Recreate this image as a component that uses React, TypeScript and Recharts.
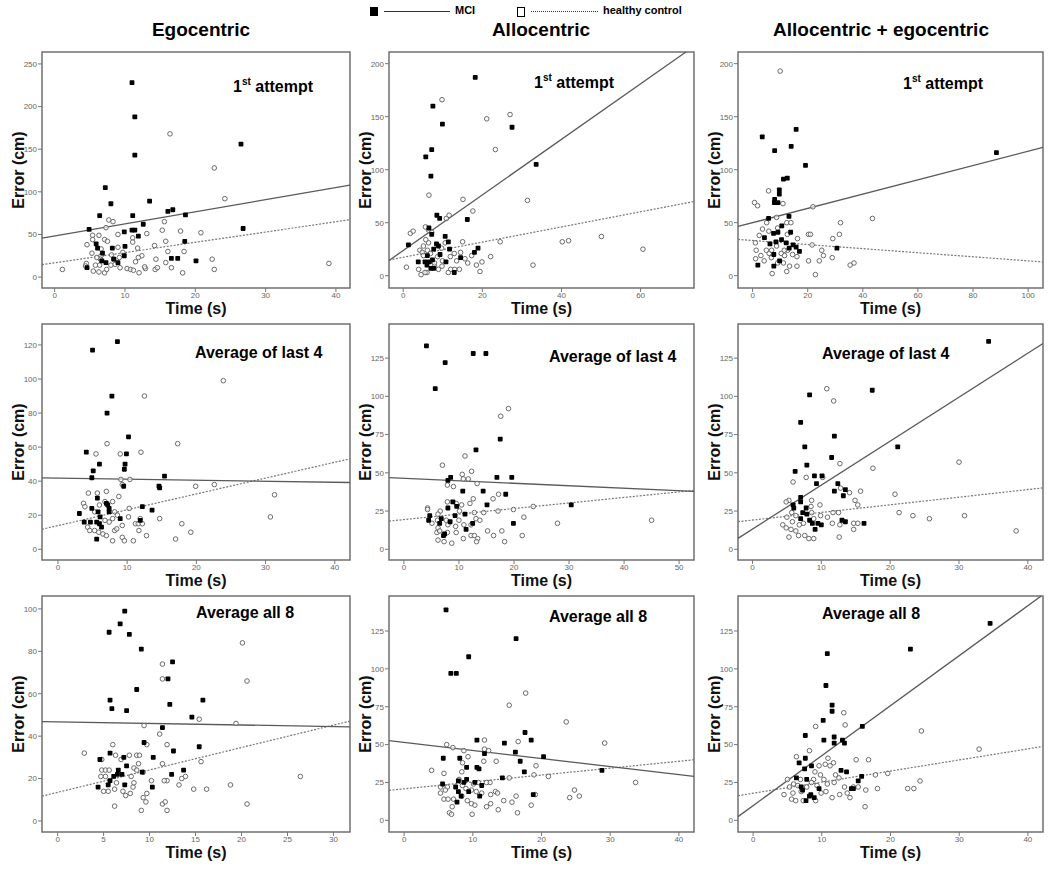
import { ScatterChart, Scatter, XAxis, YAxis, ReferenceLine, ReferenceArea } from 'recharts'

type Pt = [number, number]

// ── headings ────────────────────────────────────────────────────────────────
const columnTitles = ['Egocentric', 'Allocentric', 'Allocentric + egocentric']
const rowTitles = ['1st attempt', 'Average of last 4', 'Average all 8']

// ── axes, row-major (ego / allo / both) × (1st / last 4 / all 8) ────────────
const xDomains: Pt[] = [[-1.8, 42], [-3.6, 73.5], [-5.3, 105.4], [-2.3, 42.2], [-2.7, 52.7], [-2.1, 42.2], [-1.7, 31.8], [-2.2, 42.2], [-2.2, 42.2]]
const yDomains: Pt[] = [[-12.8, 264], [-11.6, 211], [-11.6, 211], [-6.3, 132.3], [-7, 147.3], [-7, 147.3], [-5.2, 106.1], [-7.7, 148.1], [-7.7, 148.1]]
const xTicks = [
  [0, 10, 20, 30, 40], [0, 20, 40, 60], [0, 20, 40, 60, 80, 100],
  [0, 10, 20, 30, 40], [0, 10, 20, 30, 40, 50], [0, 10, 20, 30, 40],
  [0, 5, 10, 15, 20, 25, 30], [0, 10, 20, 30, 40], [0, 10, 20, 30, 40],
]
const yTicks = [
  [0, 50, 100, 150, 200, 250], [0, 50, 100, 150, 200], [0, 50, 100, 150, 200],
  [0, 20, 40, 60, 80, 100, 120], [0, 25, 50, 75, 100, 125], [0, 25, 50, 75, 100, 125],
  [0, 20, 40, 60, 80, 100], [0, 25, 50, 75, 100, 125], [0, 25, 50, 75, 100, 125],
]

// regression fits: [intercept, slope]
const mciFits: Pt[] = [[48.2, 1.42], [23.8, 2.62], [50.0, 0.674], [41.8, -0.061], [46.4, -0.162], [13.2, 2.876], [46.7, -0.072], [51.5, -0.534], [9.7, 3.3]]
const hcFits: Pt[] = [[16.7, 1.205], [17.4, 0.715], [33.2, -0.192], [13.9, 0.93], [19.4, 0.363], [19.1, 0.499], [13.5, 1.057], [20.8, 0.455], [17.9, 0.732]]

// ── points: [time s, error cm] ──────────────────────────────────────────────
const egoFirstMci: Pt[] = [[11.0, 228], [11.4, 188], [11.4, 143], [7.2, 105], [8.0, 86], [13.5, 89], [6.4, 72], [11.1, 72], [26.5, 156], [4.9, 56], [12.6, 62], [16.1, 77], [16.8, 79], [18.6, 73], [11.0, 55], [11.4, 55], [9.9, 53], [11.9, 48], [26.8, 57], [5.9, 39], [6.1, 34], [8.2, 34], [18.5, 42], [10.0, 36], [6.8, 28], [16.6, 22], [17.5, 22], [20.1, 19], [8.4, 21], [9.0, 17], [7.3, 17], [9.9, 25], [4.6, 11], [6.7, 19]]
const egoFirstHc: Pt[] = [[16.4, 168], [22.7, 128], [24.2, 92], [7.7, 67], [8.3, 65], [7.3, 58], [15.6, 65], [15.3, 55], [17.9, 54], [20.8, 52], [13.1, 51], [9.0, 50], [5.4, 49], [6.3, 49], [4.6, 38], [5.4, 44], [7.1, 44], [7.5, 42], [11.1, 46], [11.1, 41], [14.2, 37], [15.8, 42], [11.8, 34], [9.0, 35], [6.6, 33], [5.3, 28], [6.6, 25], [8.1, 26], [9.7, 29], [12.4, 25], [14.4, 21], [16.1, 30], [18.4, 30], [22.4, 21], [6.5, 21], [4.5, 16], [4.4, 13], [5.8, 14], [6.4, 14], [8.0, 14], [9.3, 11], [10.3, 10], [10.8, 9], [11.5, 18], [11.2, 8], [12.0, 5], [12.9, 10], [14.3, 9], [14.6, 11], [16.6, 11], [18.2, 5], [22.7, 9], [5.5, 7], [6.3, 6], [7.1, 5], [7.4, 9], [8.6, 15], [1.1, 9], [39.0, 16], [15.8, 17], [12.8, 12], [9.2, 23], [11.9, 23], [8.4, 21], [6.0, 23]]

const alloFirstMci: Pt[] = [[18.2, 187], [7.5, 160], [5.7, 112], [7.2, 119], [9.9, 143], [7.0, 94], [27.5, 140], [33.6, 105], [8.5, 57], [9.2, 54], [16.2, 53], [1.3, 29], [6.5, 45], [7.2, 39], [10.6, 37], [11.4, 32], [8.4, 30], [8.9, 28], [7.7, 25], [11.7, 25], [18.9, 26], [18.0, 22], [14.5, 17], [3.8, 13], [5.5, 13], [6.0, 10], [6.6, 13], [7.4, 15], [9.3, 20], [10.8, 13], [7.0, 7], [7.7, 7], [12.9, 3], [6.1, 19]]
const alloFirstHc: Pt[] = [[9.8, 166], [21.1, 148], [27.0, 152], [23.3, 119], [6.5, 76], [15.1, 72], [31.4, 71], [17.6, 61], [10.9, 54], [11.6, 57], [1.8, 40], [2.5, 42], [5.6, 46], [6.4, 43], [7.2, 41], [15.0, 32], [24.5, 32], [40.2, 32], [41.8, 33], [50.1, 37], [60.6, 25], [32.8, 10], [22.1, 18], [19.9, 13], [19.4, 4], [18.5, 10], [16.3, 12], [15.6, 16], [14.5, 22], [12.9, 21], [11.9, 18], [13.5, 14], [12.0, 6], [11.4, 3], [13.0, 6], [14.2, 6], [9.8, 9], [8.9, 6], [7.9, 9], [6.0, 3], [5.5, 3], [4.5, 1], [3.9, 6], [0.8, 8], [4.2, 24], [4.8, 22], [5.1, 19], [6.1, 24], [6.9, 21], [8.7, 18], [9.9, 14], [9.7, 26], [10.6, 31], [6.4, 31], [5.7, 34], [7.9, 12], [17.3, 19], [5.1, 28]]

const bothFirstMci: Pt[] = [[3.5, 131], [8.0, 118], [15.8, 138], [14.0, 122], [19.2, 104], [88.5, 116], [11.2, 91], [12.6, 92], [9.7, 81], [9.7, 77], [8.0, 72], [7.9, 69], [9.2, 69], [5.8, 54], [13.2, 56], [10.6, 47], [7.6, 40], [4.3, 36], [9.2, 41], [10.5, 34], [13.8, 41], [12.2, 31], [6.3, 30], [14.7, 29], [15.8, 27], [13.3, 26], [17.0, 23], [30.6, 26], [7.7, 20], [1.9, 10], [7.7, 9], [9.8, 14], [8.5, 32]]
const bothFirstHc: Pt[] = [[10.0, 193], [5.8, 80], [0.7, 69], [1.8, 66], [11.0, 68], [21.9, 65], [43.5, 54], [31.9, 50], [5.1, 50], [8.7, 55], [12.4, 50], [13.9, 50], [3.6, 44], [5.9, 42], [9.1, 45], [20.3, 39], [21.0, 39], [31.5, 39], [29.1, 35], [2.4, 38], [16.3, 35], [12.6, 39], [1.0, 31], [1.3, 24], [3.0, 19], [1.1, 16], [4.2, 14], [6.0, 21], [6.9, 24], [10.4, 21], [11.6, 19], [12.7, 24], [14.5, 20], [16.1, 18], [21.6, 29], [25.1, 24], [25.7, 19], [24.2, 14], [20.3, 14], [28.9, 17], [35.4, 10], [36.8, 12], [22.8, 1], [7.1, 2], [12.4, 4], [11.2, 12], [13.4, 9], [16.1, 9], [9.1, 12], [6.8, 17], [8.7, 28], [5.0, 24], [11.5, 24]]

const egoLast4Mci: Pt[] = [[5.0, 117], [8.6, 122], [7.8, 90], [7.1, 80], [10.2, 66], [4.1, 57], [9.9, 56], [9.7, 50], [6.0, 50], [5.1, 46], [9.6, 47], [4.9, 42], [15.4, 43], [9.5, 37], [14.6, 37], [14.7, 36], [5.7, 30], [7.0, 27], [7.2, 26], [7.4, 24], [12.2, 25], [13.6, 23], [3.1, 21], [4.9, 24], [5.8, 22], [7.4, 22], [6.1, 19], [9.0, 18], [3.8, 16], [4.7, 16], [5.6, 16], [6.0, 15], [6.3, 13], [11.9, 17], [5.6, 6]]
const egoLast4Hc: Pt[] = [[23.9, 99], [12.5, 90], [17.3, 62], [7.1, 62], [5.5, 56], [9.0, 56], [12.0, 57], [9.1, 41], [10.4, 41], [9.3, 38], [19.9, 37], [22.6, 38], [31.3, 32], [30.7, 19], [4.4, 33], [5.7, 33], [7.0, 34], [8.8, 31], [3.7, 27], [3.9, 25], [6.8, 28], [7.9, 28], [10.3, 24], [5.3, 22], [6.0, 26], [8.2, 22], [8.6, 20], [10.2, 19], [11.9, 18], [14.7, 18], [4.3, 13], [4.6, 11], [5.3, 11], [5.9, 10], [6.5, 9], [7.0, 8], [8.2, 11], [8.5, 12], [9.3, 14], [9.3, 7], [9.6, 5], [10.9, 5], [12.8, 8], [11.7, 11], [11.2, 15], [11.6, 15], [12.2, 15], [7.9, 5], [17.0, 6], [19.2, 10], [17.9, 15], [7.4, 16], [6.8, 17], [7.9, 18]]

const alloLast4Mci: Pt[] = [[4.1, 133], [5.7, 105], [7.5, 122], [12.6, 128], [14.9, 128], [17.5, 72], [13.1, 65], [8.5, 47], [8.0, 45], [16.9, 47], [19.6, 47], [10.7, 38], [14.4, 38], [18.5, 36], [8.9, 31], [9.6, 28], [15.1, 29], [30.4, 29], [8.0, 27], [4.7, 22], [11.1, 23], [6.8, 20], [6.5, 17], [4.5, 19], [8.4, 18], [9.3, 22], [12.5, 17], [11.3, 13], [19.9, 17], [7.2, 9], [7.4, 10]]
const alloLast4Hc: Pt[] = [[19.0, 92], [17.6, 87], [11.1, 61], [7.0, 55], [12.3, 51], [10.6, 49], [10.8, 46], [11.7, 46], [13.3, 43], [7.9, 42], [9.0, 41], [16.2, 33], [17.2, 36], [10.5, 29], [12.0, 30], [12.6, 33], [7.9, 31], [9.5, 30], [23.5, 28], [19.9, 26], [17.1, 25], [14.5, 24], [12.8, 24], [10.1, 25], [6.6, 25], [4.3, 27], [6.2, 23], [21.8, 21], [27.9, 17], [45.0, 19], [13.1, 20], [13.8, 19], [10.0, 19], [7.7, 19], [5.1, 17], [6.2, 14], [8.0, 16], [9.4, 15], [10.9, 16], [12.2, 16], [15.2, 12], [17.8, 12], [6.0, 11], [6.5, 12], [7.9, 11], [9.5, 11], [12.2, 9], [12.8, 9], [10.8, 7], [13.4, 7], [13.2, 5], [16.3, 9], [21.5, 9], [18.3, 5], [6.2, 6], [7.3, 5], [8.7, 4], [4.3, 26], [6.1, 19]]

const bothLast4Mci: Pt[] = [[34.3, 136], [17.4, 104], [8.3, 101], [7.0, 83], [11.9, 74], [7.6, 67], [21.1, 67], [11.5, 60], [7.9, 55], [6.2, 51], [9.0, 48], [10.1, 48], [9.3, 43], [12.4, 43], [11.9, 38], [13.5, 39], [7.0, 34], [7.0, 31], [13.2, 35], [5.9, 29], [6.0, 27], [7.8, 27], [7.3, 24], [7.9, 23], [7.0, 20], [8.3, 19], [8.7, 17], [9.5, 17], [10.0, 16], [13.0, 19], [13.5, 18], [16.2, 17], [9.1, 13]]
const bothLast4Hc: Pt[] = [[10.8, 105], [11.8, 97], [30.0, 57], [12.7, 56], [17.5, 53], [5.9, 44], [7.8, 47], [10.2, 47], [20.7, 36], [15.7, 38], [14.1, 37], [12.8, 40], [8.6, 32], [14.9, 32], [5.3, 32], [4.9, 31], [21.3, 24], [23.3, 22], [25.7, 20], [30.8, 22], [38.3, 12], [15.3, 29], [12.5, 24], [11.7, 24], [9.8, 29], [8.5, 28], [5.7, 24], [6.3, 22], [5.0, 21], [4.4, 16], [4.9, 14], [5.6, 13], [6.3, 12], [6.7, 9], [7.6, 9], [8.2, 7], [8.9, 7], [5.3, 8], [12.6, 8], [14.7, 13], [14.7, 17], [15.3, 17], [11.6, 17], [10.9, 21], [7.4, 17], [6.8, 16], [8.9, 20], [9.9, 22], [8.6, 24], [12.7, 16], [5.8, 18]]

const egoAll8Mci: Pt[] = [[7.3, 99], [6.8, 93], [5.6, 89], [7.8, 88], [9.1, 81], [12.5, 75], [12.0, 67], [8.6, 62], [5.7, 57], [5.9, 53], [12.2, 55], [15.8, 57], [7.5, 52], [14.6, 49], [11.4, 44], [5.7, 32], [7.2, 30], [10.4, 30], [9.4, 37], [15.4, 35], [12.6, 33], [4.6, 29], [7.5, 26], [6.6, 24], [6.5, 22], [7.0, 22], [12.4, 22], [13.7, 24], [9.2, 23], [6.1, 21], [4.4, 16], [5.5, 17], [7.3, 17], [10.3, 16], [5.7, 19]]
const egoAll8Hc: Pt[] = [[20.1, 84], [11.4, 74], [11.4, 67], [20.6, 66], [15.4, 48], [19.4, 46], [9.4, 45], [11.1, 41], [9.7, 36], [11.9, 36], [6.0, 36], [2.9, 32], [6.3, 31], [7.8, 31], [8.6, 31], [8.9, 31], [6.9, 29], [15.6, 28], [11.4, 27], [8.8, 27], [4.8, 29], [4.8, 24], [5.2, 24], [5.6, 24], [8.3, 25], [8.6, 24], [9.3, 23], [5.2, 21], [4.7, 21], [8.0, 21], [13.9, 21], [13.5, 20], [11.9, 19], [11.6, 19], [13.2, 17], [18.8, 17], [26.4, 21], [5.0, 14], [5.5, 14], [6.2, 15], [7.1, 14], [8.2, 16], [7.9, 13], [7.4, 12], [14.8, 15], [16.2, 15], [9.3, 11], [9.6, 9], [9.7, 13], [6.2, 7], [9.1, 5], [11.4, 8], [11.7, 9], [11.9, 5], [20.6, 8], [10.2, 19], [6.4, 18], [8.3, 18]]

const alloAll8Mci: Pt[] = [[6.1, 139], [16.3, 120], [9.4, 108], [6.8, 97], [7.6, 97], [17.6, 58], [18.5, 53], [10.6, 53], [14.6, 51], [16.2, 45], [20.3, 42], [5.7, 41], [8.1, 41], [16.9, 39], [11.7, 44], [9.1, 35], [10.6, 35], [10.9, 34], [17.5, 32], [28.8, 33], [14.3, 28], [5.6, 24], [7.9, 26], [9.1, 27], [10.3, 25], [7.5, 22], [11.3, 23], [7.9, 19], [9.4, 19], [18.8, 17], [11.0, 16], [8.3, 16], [7.7, 12], [8.7, 25]]
const alloAll8Hc: Pt[] = [[17.7, 84], [15.3, 76], [23.6, 65], [29.2, 51], [6.2, 50], [7.1, 48], [8.7, 46], [11.7, 53], [11.7, 47], [12.3, 46], [16.6, 52], [9.3, 42], [8.5, 38], [11.6, 39], [13.4, 39], [4.0, 33], [5.8, 31], [8.4, 32], [19.2, 36], [18.9, 30], [21.0, 29], [15.3, 28], [12.5, 25], [12.0, 25], [10.8, 25], [10.1, 24], [8.0, 27], [5.3, 22], [6.3, 22], [8.5, 23], [9.0, 21], [9.8, 20], [10.5, 19], [11.3, 18], [12.6, 17], [13.3, 19], [13.6, 18], [19.1, 17], [16.3, 16], [24.1, 15], [24.8, 20], [25.5, 16], [33.7, 25], [5.8, 14], [6.4, 14], [7.2, 14], [8.4, 16], [9.2, 13], [9.8, 11], [10.3, 10], [12.0, 9], [12.6, 11], [14.5, 13], [15.7, 12], [18.5, 10], [13.7, 7], [7.0, 9], [6.6, 5], [6.9, 4], [9.9, 4], [16.5, 5], [5.3, 18], [6.0, 20]]

const bothAll8Mci: Pt[] = [[34.5, 130], [22.9, 113], [10.8, 110], [10.6, 89], [11.5, 76], [11.5, 72], [10.2, 66], [15.9, 62], [7.6, 56], [11.8, 55], [10.3, 53], [13.0, 53], [11.8, 51], [13.3, 51], [7.6, 41], [6.7, 38], [8.5, 36], [7.5, 34], [12.8, 33], [13.6, 32], [15.8, 29], [15.3, 26], [6.3, 28], [7.8, 27], [14.3, 21], [14.6, 21], [7.0, 22], [9.6, 21], [8.4, 17], [8.2, 16], [7.7, 13], [8.9, 15], [7.2, 20]]
const bothAll8Hc: Pt[] = [[13.2, 71], [13.4, 63], [9.1, 62], [24.5, 59], [32.9, 47], [8.2, 46], [6.3, 42], [10.9, 41], [11.7, 38], [15.0, 40], [16.8, 40], [10.5, 37], [9.6, 36], [11.2, 36], [17.8, 30], [19.6, 31], [12.0, 30], [9.0, 32], [9.8, 30], [5.0, 27], [6.9, 27], [8.8, 27], [10.3, 27], [12.5, 28], [24.3, 26], [5.9, 24], [6.5, 23], [8.5, 25], [10.8, 24], [11.8, 25], [14.6, 22], [13.3, 22], [13.7, 18], [15.3, 22], [18.1, 21], [16.4, 20], [22.5, 21], [23.4, 21], [4.5, 17], [5.8, 18], [7.0, 19], [9.9, 18], [10.6, 19], [12.6, 17], [11.5, 15], [14.1, 15], [5.6, 14], [6.2, 13], [7.3, 13], [9.1, 13], [16.3, 9], [5.3, 22], [7.8, 22], [9.3, 23]]

const mciSets = [egoFirstMci, alloFirstMci, bothFirstMci, egoLast4Mci, alloLast4Mci, bothLast4Mci, egoAll8Mci, alloAll8Mci, bothAll8Mci]
const hcSets = [egoFirstHc, alloFirstHc, bothFirstHc, egoLast4Hc, alloLast4Hc, bothLast4Hc, egoAll8Hc, alloAll8Hc, bothAll8Hc]

// ── layout ──────────────────────────────────────────────────────────────────
const COL_LEFT = [42, 389, 738]
const COL_W = [308, 305, 305]
const TITLE_CX = [201, 541, 881]
const ROW_TOP = [52, 324, 596]
const BOX_H = 236
const YW = 40
const XH = 34
const PAD = 6
// where the panel caption starts, relative to the plot box
const captionPos = [[191, 34], [145, 30], [165, 31], [153, 29], [160, 33], [84, 30], [154, 17], [160, 21], [84, 18]]

const FONT = '"Liberation Sans", Arial, sans-serif'
const tickStyle = { fill: '#666', fontSize: 8, fontFamily: FONT }
const axisLabel = { fill: '#111', fontSize: 16, fontWeight: 700, fontFamily: FONT }

const toObj = (pts: Pt[]) => pts.map(([x, y]) => ({ x, y }))

// fit line across the x range, trimmed to the y range
function fitSegment([a, b]: Pt, [x0, x1]: Pt, [y0, y1]: Pt) {
  const clip = (x: number) => {
    let y = a + b * x
    if (y > y1) { x = (y1 - a) / b; y = y1 }
    if (y < y0) { x = (y0 - a) / b; y = y0 }
    return { x, y }
  }
  return [clip(x0), clip(x1)]
}

function HcDot(p: any) {
  return <circle cx={p.cx} cy={p.cy} r={2.3} fill="#fff" fillOpacity={0.6} stroke="#6a6a6a" strokeWidth={1} />
}
function MciDot(p: any) {
  return <rect x={p.cx - 2.4} y={p.cy - 2.4} width={4.8} height={4.8} rx={0.8} fill="#000" />
}

function Panel({ idx }: { idx: number }) {
  const col = idx % 3
  const row = Math.floor(idx / 3)
  const w = COL_W[col]
  const xd = xDomains[idx]
  const yd = yDomains[idx]
  const [cx, cy] = captionPos[idx]
  return (
    <div style={{ position: 'absolute', left: COL_LEFT[col] - YW, top: ROW_TOP[row] - PAD }}>
      <ScatterChart width={w + YW + PAD} height={BOX_H + PAD + XH} margin={{ top: PAD, right: PAD, left: 0, bottom: 0 }}>
        <XAxis type="number" dataKey="x" domain={xd} ticks={xTicks[idx]} allowDataOverflow height={XH}
          tick={tickStyle} tickSize={4} tickMargin={0} tickLine={{ stroke: '#777' }} axisLine={false}
          label={{ value: 'Time (s)', position: 'insideBottom', offset: 8, style: axisLabel }} />
        <YAxis type="number" dataKey="y" domain={yd} ticks={yTicks[idx]} allowDataOverflow width={YW}
          tick={tickStyle} tickSize={4} tickMargin={1} tickLine={{ stroke: '#777' }} axisLine={false}
          label={{ value: 'Error (cm)', angle: -90, position: 'insideLeft', offset: 16, style: { ...axisLabel, textAnchor: 'middle' } }} />
        <ReferenceArea x1={xd[0]} x2={xd[1]} y1={yd[0]} y2={yd[1]} fill="#fff" fillOpacity={0} stroke="#707070" strokeWidth={1.5} ifOverflow="visible" />
        <Scatter data={toObj(hcSets[idx])} shape={HcDot} isAnimationActive={false} />
        <Scatter data={toObj(mciSets[idx])} shape={MciDot} isAnimationActive={false} />
        <ReferenceLine segment={fitSegment(hcFits[idx], xd, yd)} stroke="#777" strokeWidth={1.2} strokeDasharray="2 1.5" ifOverflow="visible" />
        <ReferenceLine segment={fitSegment(mciFits[idx], xd, yd)} stroke="#5a5a5a" strokeWidth={1.3} ifOverflow="visible" />
      </ScatterChart>
      <div style={{
        position: 'absolute', left: YW + cx, top: PAD + cy, transform: 'translateY(-50%)',
        fontFamily: FONT, fontWeight: 700, fontSize: 16, lineHeight: 1, whiteSpace: 'nowrap', color: '#000',
      }}>
        {row === 0
          ? <>1<sup style={{ fontSize: 10 }}>st</sup> attempt</>
          : rowTitles[row]}
      </div>
    </div>
  )
}

export default function App() {
  return (
    <div style={{ position: 'absolute', left: 0, top: 0, width: 1050, height: 870, background: '#fff', fontFamily: FONT }}>
      {/* legend */}
      <div style={{ position: 'absolute', left: 370, top: 7, width: 8, height: 9, background: '#000' }} />
      <div style={{ position: 'absolute', left: 384, top: 11, width: 66, borderTop: '1.3px solid #333' }} />
      <div style={{ position: 'absolute', left: 455, top: 4, fontSize: 11, fontWeight: 700 }}>MCI</div>
      <div style={{ position: 'absolute', left: 517, top: 7, width: 6, height: 8, border: '1px solid #000' }} />
      <div style={{ position: 'absolute', left: 531, top: 11, width: 67, borderTop: '1.3px dotted #333' }} />
      <div style={{ position: 'absolute', left: 603, top: 4, fontSize: 11, fontWeight: 700 }}>healthy control</div>

      {columnTitles.map((t, c) => (
        <div key={t} style={{
          position: 'absolute', left: TITLE_CX[c] - 150, width: 300, top: 19, textAlign: 'center',
          fontSize: 19, fontWeight: 700, lineHeight: '22px',
        }}>{t}</div>
      ))}

      {mciSets.map((_, i) => <Panel key={i} idx={i} />)}
    </div>
  )
}
